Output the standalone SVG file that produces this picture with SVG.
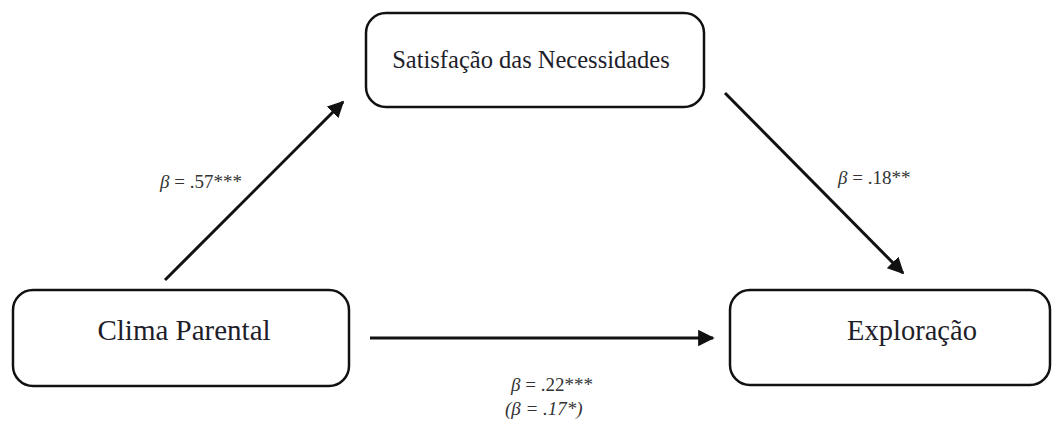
<svg xmlns="http://www.w3.org/2000/svg" width="1056" height="430" viewBox="0 0 1056 430">
<style>
.box{fill:#fff;stroke:#111;stroke-width:2.5}
.lbl{font-family:"Liberation Serif",serif;fill:#1e1e2a}
.coef{font-family:"Liberation Serif",serif;font-size:19px;fill:#333}
.edge{stroke:#111;stroke-width:3;fill:none}
</style>
<defs>
<marker id="ah" viewBox="0 0 10 10" refX="9" refY="5" markerWidth="5.5" markerHeight="5.5" markerUnits="strokeWidth" orient="auto">
<path d="M0,0 L10,5 L0,10 z" fill="#111"/>
</marker>
</defs>
<rect width="1056" height="430" fill="#fff"/>
<g id="node-satisfacao">
<rect class="box" x="366" y="13" width="338" height="94" rx="20"/>
<text class="lbl" x="531" y="68" font-size="24.5" text-anchor="middle">Satisfação das Necessidades</text>
</g>
<g id="node-clima">
<rect class="box" x="13" y="290" width="336" height="96" rx="20"/>
<text class="lbl" x="184" y="340" font-size="29" text-anchor="middle">Clima Parental</text>
</g>
<g id="node-exploracao">
<rect class="box" x="730" y="290" width="320" height="95" rx="20"/>
<text class="lbl" x="912" y="340" font-size="28.5" text-anchor="middle">Exploração</text>
</g>
<g id="connectors">
<line class="edge" x1="165" y1="280" x2="343" y2="102" marker-end="url(#ah)"/>
<line class="edge" x1="725" y1="93" x2="903" y2="273" marker-end="url(#ah)"/>
<line class="edge" x1="370" y1="338" x2="713" y2="338" marker-end="url(#ah)"/>
</g>
<g id="labels">
<text class="coef" x="160" y="188"><tspan font-style="italic">β</tspan> = .57***</text>
<text class="coef" x="838" y="184"><tspan font-style="italic">β</tspan> = .18**</text>
<text class="coef" x="511" y="391"><tspan font-style="italic">β</tspan> = .22***</text>
<text class="coef" x="505" y="415" font-style="italic">(β = .17*)</text>
</g>
</svg>
